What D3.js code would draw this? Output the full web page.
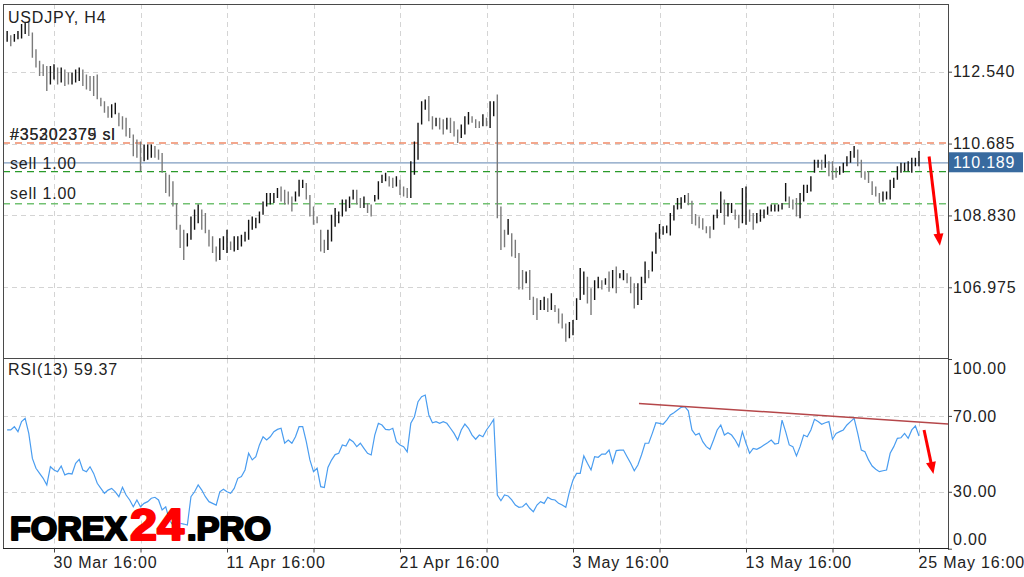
<!DOCTYPE html>
<html><head><meta charset="utf-8">
<script src="https://cdn.jsdelivr.net/npm/d3@7"></script>
<style>
html,body{margin:0;padding:0;background:#fff;}
svg{display:block;}
text{font-family:"Liberation Sans",Arial,Helvetica,sans-serif;}
</style></head><body>
<svg id="c" width="1024" height="577"></svg>
<script>
// ---------- DATA ----------
const symbolTitle = "USDJPY, H4";
const rsiTitle = "RSI(13) 59.37";
const highs = [
113.59,113.48,113.51,113.59,113.77,113.81,113.85,113.55,113.12,112.82,
112.73,112.69,112.69,112.73,112.65,112.65,112.60,112.52,112.52,112.60,
112.65,112.60,112.47,112.43,112.43,112.47,111.87,111.78,111.65,111.70,
111.74,111.48,111.39,111.35,111.09,110.92,110.79,110.74,110.66,110.66,
110.66,110.62,110.53,110.44,109.93,109.88,109.71,109.15,108.59,108.46,
108.37,108.80,108.98,109.11,108.98,108.89,108.46,108.29,108.03,108.24,
108.29,108.46,108.16,108.29,108.29,108.33,108.41,108.72,108.80,108.77,
108.93,109.19,109.41,109.41,109.41,109.54,109.58,109.49,109.45,109.32,
109.45,109.75,109.75,109.67,109.36,109.06,108.80,108.46,108.20,108.46,
108.85,109.02,108.93,109.24,109.24,109.32,109.49,109.49,109.28,109.32,
109.15,109.11,109.36,109.71,109.88,109.93,109.84,109.80,109.84,109.75,
109.58,109.54,110.23,110.74,111.22,111.78,111.82,111.91,111.39,111.35,
111.35,111.31,111.35,111.35,111.26,111.05,111.18,111.39,111.50,111.39,
111.31,111.26,111.44,111.35,111.78,111.78,111.95,109.06,108.46,108.74,
108.37,108.20,107.86,107.42,107.38,107.42,106.73,106.69,106.65,106.73,
106.69,106.82,106.52,106.43,106.30,106.04,106.08,106.13,106.69,107.47,
107.38,107.25,106.95,107.16,107.25,107.16,107.21,107.38,107.42,107.51,
107.34,107.42,107.34,107.25,107.08,107.08,107.25,107.64,107.42,107.90,
108.39,108.61,108.55,108.57,108.89,109.09,109.28,109.30,109.36,109.41,
109.21,108.87,108.80,108.76,108.55,108.55,108.85,108.98,109.45,109.24,
109.15,109.15,108.98,108.85,109.54,109.58,108.98,108.89,108.89,108.98,
108.98,109.06,109.11,109.11,109.11,109.15,109.67,109.32,109.24,109.28,
109.41,109.62,109.62,109.84,110.27,110.27,110.27,110.40,110.23,110.23,
110.06,110.10,110.19,110.36,110.49,110.62,110.53,110.27,109.97,109.97,
109.71,109.58,109.41,109.45,109.45,109.75,109.80,110.10,110.19,110.19,
110.23,110.32,110.32,110.49];
const lows = [
113.31,113.20,113.31,113.38,113.40,113.51,113.46,112.90,112.65,112.43,
112.43,112.04,112.21,112.34,112.21,112.26,112.17,112.21,112.21,112.26,
112.30,112.17,112.08,112.04,111.91,111.83,111.65,111.48,111.35,111.35,
111.44,111.13,111.05,110.87,110.83,110.36,110.32,109.97,110.23,110.27,
110.32,110.32,110.27,109.93,109.41,109.32,109.06,108.46,107.99,107.68,
108.03,108.20,108.46,108.63,108.46,108.37,108.03,107.86,107.64,107.68,
107.94,107.86,107.94,107.90,107.94,108.03,108.16,108.20,108.46,108.50,
108.63,108.85,109.06,109.11,109.15,109.28,109.19,109.11,109.11,108.93,
109.19,109.32,109.54,109.24,108.80,108.59,108.63,107.90,107.86,107.94,
108.16,108.54,108.63,108.80,108.93,109.02,109.24,109.11,109.02,109.02,
108.89,108.80,109.19,109.24,109.67,109.71,109.58,109.54,109.58,109.36,
109.32,109.28,109.28,109.88,110.27,111.18,111.56,111.26,111.05,111.13,
111.05,110.92,111.05,110.96,110.87,110.70,110.83,110.92,111.18,111.22,
111.09,111.09,111.13,111.13,111.09,111.39,108.76,107.94,108.01,108.33,
107.77,107.73,106.92,106.92,107.08,106.65,106.26,106.13,106.39,106.39,
106.34,106.39,106.34,106.04,105.91,105.57,105.66,105.74,106.13,106.65,
106.78,106.56,106.26,106.65,106.95,106.92,107.04,106.86,106.95,106.82,
107.21,107.16,107.08,106.82,106.43,106.52,106.65,107.08,107.21,107.38,
107.84,108.23,108.33,108.37,108.31,108.70,108.98,109.00,109.16,109.09,
108.61,108.57,108.50,108.46,108.37,108.24,108.46,108.76,108.89,108.59,
108.80,108.89,108.72,108.50,108.63,108.59,108.67,108.46,108.63,108.67,
108.76,108.85,108.93,108.93,108.93,108.98,109.19,109.02,108.98,108.80,
108.76,109.19,109.41,109.45,109.93,110.06,110.01,110.06,109.84,109.75,
109.80,109.88,109.93,110.10,110.19,110.32,110.10,109.80,109.75,109.67,
109.36,109.32,109.15,109.19,109.24,109.24,109.54,109.75,109.93,109.97,
109.97,109.93,110.10,110.10];
const rsiValues = [
62.6,62.6,64.3,61.7,67,68.7,60.8,47.6,42.4,39.7,
37.1,33.6,43.2,41.5,40.6,43.6,38.9,39.7,39.4,45,
47.1,41.5,40.6,43.2,39.7,34.5,31.8,29.2,30.9,31.8,
30,27.4,32.4,28.3,25.7,22.1,25.7,22.1,23.9,24.8,
26.6,27.1,25.7,20.4,22.1,15.1,12.5,11.6,13.4,13,
12.5,27.4,30,33.6,30.9,27.4,24.8,23.9,23,30,
31.3,30,29.2,31.8,37.1,38,41.5,50.3,46.8,48.5,
54.7,59,57.3,59,61.7,62.9,63.5,55.6,57.3,55.6,
59,64.3,64.3,56.4,46.8,40.6,42.4,32.7,32.2,42.8,
46.7,49.6,50.3,54.7,54.1,57.7,56.4,53.8,55.6,52.9,
50.3,49.4,59.9,66.1,65.2,62.9,62.6,63.5,56.4,54.7,
53.8,51.1,66.1,69.6,77.5,80.1,81,70.5,66.4,67,
66.1,67,66.1,63.5,60.8,57.3,62.6,65.7,63.5,59.9,
57.7,59.9,59,62.6,65.2,68.2,28.3,25.3,28.3,27.8,
25.7,23,21.8,22.1,23.9,21.3,19.5,23,24.8,23.9,
27.1,26,25.7,23.9,23,21.8,30,36.2,39.7,39.7,
48.9,45,41.5,48.5,48.2,49.9,49.9,52,45.3,51.7,
52,52,48.5,45,41.1,44.1,49.4,55.6,55.6,60.8,
66.4,66.1,65.6,67.8,70.5,71.7,73.1,74.5,74.9,72.7,
62.6,59.9,60.8,56.4,53.8,52.4,57.3,62.6,65.2,59.9,
61.1,59.9,57.3,53.8,61.7,55.6,50.3,52.9,52.4,53.4,
54.7,55.9,57.3,55.2,55.6,67.8,61.7,54.7,53.8,48.9,
53.8,59.9,59,62.6,68.2,67,65.6,66.4,67,57.7,
60.8,61.7,62.6,65.2,67,68.7,60.8,52,51.1,46.8,
43.6,41.9,40.6,41.1,41.5,50.3,53.8,58.2,58.5,60.8,
58.2,62.6,64.7,59.37];
const xTickIdx = [13,37,61,85,109,133,157,181,205,229,253];
const xTickLabels = ["30 Mar 16:00","","11 Apr 16:00","","21 Apr 16:00","","3 May 16:00","","13 May 16:00","","25 May 16:00"];
const priceTicks = [112.540,110.685,108.830,106.975];
const rsiTicks = [100,70,30,0];
const lastPrice = 110.189;
const slPrice = 110.70;
const sellPrices = [109.96,109.13];
const orderLabels = ["#35302379 sl","#35202375 sl"];
const sellLabel = "sell 1.00";
const rsiTrendIdx = [175.3,261.1];
const rsiTrendVal = [76.6,65.7];
const priceArrowIdx = [255.8,258.8];
const priceArrowVal = [110.35,108.05];
const rsiArrowIdx = [254.4,257.0];
const rsiArrowVal = [62.6,39.4];

// ---------- LAYOUT ----------
const L = 3, R = 948, T = 4, SEP = 358.5, B = 548.5;
const svg = d3.select("#c");
const x = d3.scaleLinear().domain([0,253]).range([7.15,919]);
const yP = d3.scaleLinear().domain([106.975,112.540]).range([287.3,71.7]);
const yR = d3.scaleLinear().domain([0,100]).range([548.7,359]);
const FS = 16, LS = "0.8px", TXT = "#222";

const defs = svg.append("defs");
defs.append("clipPath").attr("id","cpMain").append("rect").attr("x",L).attr("y",T).attr("width",R-L).attr("height",SEP-T);
defs.append("clipPath").attr("id","cpRsi").append("rect").attr("x",L).attr("y",SEP).attr("width",R-L).attr("height",B-SEP);

const grid = svg.append("g").attr("stroke","#d4d4d4").attr("stroke-width",1).attr("stroke-dasharray","5,4");
xTickIdx.forEach(i=>{
  const xx = Math.round(x(i))+0.5;
  grid.append("line").attr("x1",xx).attr("x2",xx).attr("y1",T).attr("y2",SEP);
  grid.append("line").attr("x1",xx).attr("x2",xx).attr("y1",SEP).attr("y2",B);
});
priceTicks.forEach(p=>{
  const yy = Math.round(yP(p))+0.5;
  grid.append("line").attr("x1",L).attr("x2",R).attr("y1",yy).attr("y2",yy);
});
[70,30].forEach(v=>{
  const yy = Math.round(yR(v))+0.5;
  grid.append("line").attr("x1",L).attr("x2",R).attr("y1",yy).attr("y2",yy);
});

// order lines
const ol = svg.append("g").attr("clip-path","url(#cpMain)");
ol.append("line").attr("x1",L).attr("x2",R).attr("y1",yP(slPrice)).attr("y2",yP(slPrice))
  .attr("stroke","#f08a68").attr("stroke-width",1.3).attr("stroke-dasharray","7,5");
ol.append("line").attr("x1",L).attr("x2",R).attr("y1",yP(lastPrice)).attr("y2",yP(lastPrice))
  .attr("stroke","#7f9cc0").attr("stroke-width",1.3);
ol.append("line").attr("x1",L).attr("x2",R).attr("y1",yP(sellPrices[0])).attr("y2",yP(sellPrices[0]))
  .attr("stroke","#2a9a2a").attr("stroke-width",1.3).attr("stroke-dasharray","7,5");
ol.append("line").attr("x1",L).attr("x2",R).attr("y1",yP(sellPrices[1])).attr("y2",yP(sellPrices[1]))
  .attr("stroke","#72c172").attr("stroke-width",1.5).attr("stroke-dasharray","7,5");

// bars
const bars = svg.append("g").attr("clip-path","url(#cpMain)");
highs.forEach((h,i)=>{
  const mid = (h+lows[i])/2;
  const prevMid = i>0 ? (highs[i-1]+lows[i-1])/2 : mid;
  const up = mid >= prevMid;
  bars.append("line").attr("x1",x(i)).attr("x2",x(i)).attr("y1",yP(h)).attr("y2",yP(lows[i]))
    .attr("stroke", up ? "#111" : "#7a7a7a").attr("stroke-width",1.4);
});

// labels in main panel
const lab = svg.append("g").attr("font-size",FS).attr("fill",TXT).style("letter-spacing",LS);
lab.append("text").attr("x",8).attr("y",23).text(symbolTitle);
orderLabels.forEach(t=>{
  lab.append("text").attr("x",10).attr("y",140).attr("fill","#2a2a2a").text(t);
});
lab.append("text").attr("x",10).attr("y",yP(lastPrice)+6).text(sellLabel);
lab.append("text").attr("x",10).attr("y",yP(sellPrices[1])-5).text(sellLabel);

// RSI line
const rg = svg.append("g").attr("clip-path","url(#cpRsi)");
rg.append("path").datum(rsiValues)
  .attr("d", d3.line().x((d,i)=>x(i)).y(d=>yR(d)))
  .attr("fill","none").attr("stroke","#4a9df0").attr("stroke-width",1.2);
rg.append("line").attr("x1",x(rsiTrendIdx[0])).attr("y1",yR(rsiTrendVal[0]))
  .attr("x2",x(rsiTrendIdx[1])).attr("y2",yR(rsiTrendVal[1]))
  .attr("stroke","#b5474a").attr("stroke-width",1.5);
lab.append("text").attr("x",8).attr("y",375).text(rsiTitle);

// frame
const fr = svg.append("g").attr("stroke","#4a4a4a").attr("stroke-width",1);
fr.append("line").attr("x1",L).attr("x2",R).attr("y1",T+0.5).attr("y2",T+0.5);
fr.append("line").attr("x1",L+0.5).attr("x2",L+0.5).attr("y1",T).attr("y2",B);
fr.append("line").attr("x1",R+0.5).attr("x2",R+0.5).attr("y1",T).attr("y2",B+1);
fr.append("line").attr("x1",L).attr("x2",R).attr("y1",SEP).attr("y2",SEP);
fr.append("line").attr("x1",L).attr("x2",R+1).attr("y1",B).attr("y2",B).attr("stroke","#222");

// axes
function styleAxis(g){
  g.select(".domain").remove();
  g.selectAll(".tick line").attr("stroke","#444");
  g.selectAll(".tick text").attr("font-size",FS).attr("fill",TXT)
    .attr("font-family","'Liberation Sans',Arial,sans-serif").style("letter-spacing",LS);
}
const xAx = svg.append("g").attr("transform",`translate(0,${B})`)
  .call(d3.axisBottom(x).tickValues(xTickIdx).tickFormat((d,i)=>xTickLabels[i]).tickSize(4).tickPadding(3));
styleAxis(xAx);
xAx.selectAll(".tick text").attr("text-anchor","start").attr("dx",-1).attr("dy","0.75em");

const pAx = svg.append("g").attr("transform",`translate(${R},0)`)
  .call(d3.axisRight(yP).tickValues(priceTicks).tickFormat(d3.format(".3f")).tickSize(4).tickPadding(1));
styleAxis(pAx);

const rAx = svg.append("g").attr("transform",`translate(${R},0)`)
  .call(d3.axisRight(yR).tickValues(rsiTicks).tickFormat(d3.format(".2f")).tickSize(4).tickPadding(1));
styleAxis(rAx);
rAx.selectAll(".tick text").attr("y",d=> d===100 ? 9 : (d===0 ? -9 : 0));

// current price box
const bx = svg.append("g");
bx.append("rect").attr("x",R+1).attr("y",yP(lastPrice)-10.5).attr("width",74).attr("height",20).attr("fill","#386a9f");
bx.append("text").attr("x",R+5).attr("y",yP(lastPrice)).attr("dy","0.35em").attr("font-size",FS)
  .attr("fill","#fff").style("letter-spacing",LS).text(d3.format(".3f")(lastPrice));

// arrows
function arrow(x1,y1,x2,y2){
  const dx=x2-x1, dy=y2-y1, len=Math.hypot(dx,dy), ux=dx/len, uy=dy/len;
  const hl=12, hw=10;
  const bx0=x2-ux*hl, by0=y2-uy*hl;
  svg.append("line").attr("x1",x1).attr("y1",y1).attr("x2",bx0+ux*2).attr("y2",by0+uy*2)
    .attr("stroke","#f00").attr("stroke-width",3);
  svg.append("path").attr("d",`M${x2},${y2}L${bx0-uy*hw/2},${by0+ux*hw/2}L${bx0+uy*hw/2},${by0-ux*hw/2}Z`).attr("fill","#f00");
}
arrow(x(priceArrowIdx[0]),yP(priceArrowVal[0]),x(priceArrowIdx[1]),yP(priceArrowVal[1]));
arrow(x(rsiArrowIdx[0]),yR(rsiArrowVal[0]),x(rsiArrowIdx[1]),yR(rsiArrowVal[1]));

// logo
const logo = svg.append("text").attr("x",10).attr("y",540)
  .attr("font-family","'DejaVu Sans',Roboto,sans-serif").attr("font-weight",900)
  .attr("stroke-linejoin","round");
logo.append("tspan").attr("font-size",33).attr("fill","#000").attr("stroke","#000").attr("stroke-width",2.2)
  .attr("textLength",117).attr("lengthAdjust","spacingAndGlyphs").text("FOREX");
logo.append("tspan").attr("x",130).attr("font-size",44).attr("fill","#f00").attr("stroke","#f00").attr("stroke-width",2.2)
  .attr("textLength",54).attr("lengthAdjust","spacingAndGlyphs").text("24");
logo.append("tspan").attr("x",187).attr("font-size",33).attr("fill","#000").attr("stroke","#000").attr("stroke-width",2.2)
  .attr("textLength",84).attr("lengthAdjust","spacingAndGlyphs").text(".PRO");
</script>
</body></html>
